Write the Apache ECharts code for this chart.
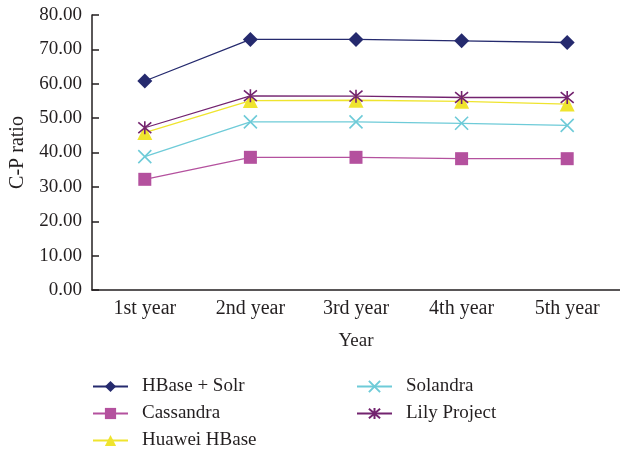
<!DOCTYPE html>
<html><head><meta charset="utf-8">
<script src="https://cdn.jsdelivr.net/npm/echarts@6/dist/echarts.min.js"></script>
<style>html,body{margin:0;padding:0;background:#fff}#c{width:620px;height:451px}</style>
</head><body><div id="c"></div>
<script>
const categories = ['1st year','2nd year','3rd year','4th year','5th year'];
const hbaseSolr = [60.8, 72.9, 72.9, 72.5, 72.0];
const cassandra = [32.2, 38.6, 38.6, 38.2, 38.2];
const huaweiHBase = [45.8, 55.1, 55.2, 54.9, 54.1];
const solandra = [38.8, 48.9, 48.9, 48.5, 47.9];
const lilyProject = [47.2, 56.5, 56.4, 56.0, 56.0];
const yTicks = {min: 0, max: 80, interval: 10};

const font = 'Liberation Serif';
const xPath = 'path://M0,0L10,10M10,0L0,10';
const starPath = 'path://M0,0L10,10M10,0L0,10M5,-1L5,11';

function mk(name, data, color, symbol, size, stroke) {
  return {
    name, type: 'line', data, symbol, symbolSize: size,
    showAllSymbol: true,
    lineStyle: {color, width: 1.3},
    itemStyle: stroke ? {color: color, borderColor: color, borderWidth: 1.6} : {color: color},
    z: 3
  };
}

const legendText = {fontFamily: font, fontSize: 19, color: '#231f20', padding: [0, 0, 0, 9]};
function lg(name, left, top) {
  return {data: [name], orient: 'horizontal', left, top, padding: 0,
    itemWidth: 35, itemHeight: 14, textStyle: legendText};
}
const chart = echarts.init(document.getElementById('c'), null, {renderer: 'canvas'});
chart.setOption({
  animation: false,
  textStyle: {fontFamily: font, color: '#231f20'},
  grid: {left: 92, right: 0, top: 15, bottom: 161, outerBoundsMode: 'none', containLabel: false},
  xAxis: {
    type: 'category', data: categories, boundaryGap: true,
    name: 'Year', nameLocation: 'middle', nameGap: 42,
    nameTextStyle: {fontFamily: font, fontSize: 19, color: '#231f20'},
    axisLine: {lineStyle: {color: '#231f20', width: 1.5}},
    axisTick: {inside: true, length: 6, lineStyle: {color: '#231f20', width: 1.5}},
    axisLabel: {fontFamily: font, fontSize: 20, color: '#231f20', margin: 9},
    splitLine: {show: false}
  },
  yAxis: {
    type: 'value', min: yTicks.min, max: yTicks.max, interval: yTicks.interval,
    name: 'C-P ratio', nameLocation: 'middle', nameGap: 64, nameRotate: 90,
    nameTextStyle: {fontFamily: font, fontSize: 20, color: '#231f20'},
    axisLine: {show: true, lineStyle: {color: '#231f20', width: 1.5}},
    axisTick: {show: true, inside: true, length: 7, lineStyle: {color: '#231f20', width: 1.5}},
    axisLabel: {fontFamily: font, fontSize: 19, color: '#231f20', margin: 10,
      formatter: v => v.toFixed(2)},
    splitLine: {show: false}
  },
  legend: [
    lg('HBase + Solr', 92, 377),
    lg('Cassandra', 92, 404),
    lg('Huawei HBase', 92, 431),
    lg('Solandra', 356, 377),
    lg('Lily Project', 356, 404)
  ],
  series: [
    mk('HBase + Solr', hbaseSolr, '#252a6e', 'diamond', 15),
    mk('Cassandra', cassandra, '#b4519e', 'rect', 13),
    mk('Huawei HBase', huaweiHBase, '#efe42e', 'triangle', 15),
    mk('Solandra', solandra, '#6ecbd8', xPath, 13, true),
    mk('Lily Project', lilyProject, '#73236f', starPath, 13, true)
  ]
});
</script></body></html>
